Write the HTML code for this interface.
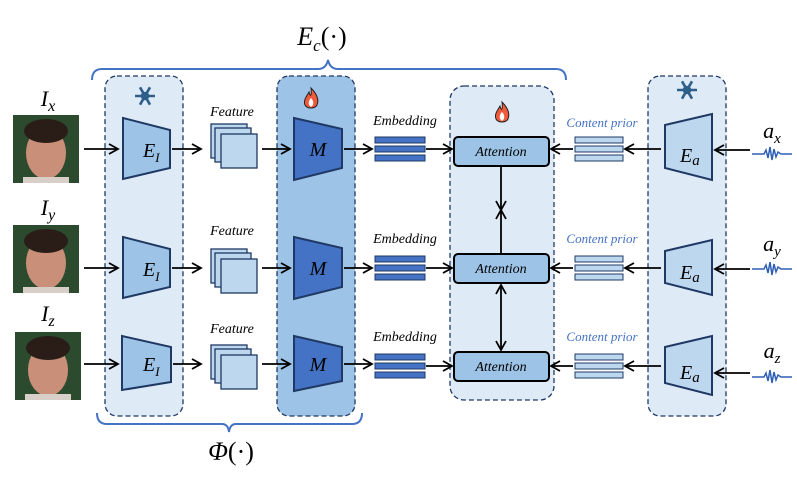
<!DOCTYPE html>
<html><head><meta charset="utf-8"><style>
body{margin:0;background:#fff}
svg{display:block}
text{font-family:"Liberation Serif",serif;font-style:italic}
</style></head><body>
<svg width="797" height="480" viewBox="0 0 797 480" xmlns="http://www.w3.org/2000/svg">
<defs>
<marker id="ah" markerWidth="12" markerHeight="12" refX="10" refY="6" orient="auto" markerUnits="userSpaceOnUse">
<path d="M1,1 L10,6 L1,11" fill="none" stroke="#000" stroke-width="1.8"/>
</marker>
<g id="emb">
<rect x="0" y="0" width="50" height="6" fill="#4472c4" stroke="#1f3864" stroke-width="1"/>
<rect x="0" y="9" width="50" height="6" fill="#4472c4" stroke="#1f3864" stroke-width="1"/>
<rect x="0" y="18" width="50" height="6" fill="#4472c4" stroke="#1f3864" stroke-width="1"/>
</g>
<g id="cp">
<rect x="0" y="0" width="48" height="6" fill="#bdd7ee" stroke="#1f3864" stroke-width="1"/>
<rect x="0" y="9" width="48" height="6" fill="#bdd7ee" stroke="#1f3864" stroke-width="1"/>
<rect x="0" y="18" width="48" height="6" fill="#bdd7ee" stroke="#1f3864" stroke-width="1"/>
</g>
<g id="feat">
<rect x="0" y="0" width="36" height="34" fill="#bdd7ee" stroke="#1f3864" stroke-width="1.3"/>
<rect x="4" y="4" width="36" height="34" fill="#bdd7ee" stroke="#1f3864" stroke-width="1.3"/>
<rect x="10" y="10" width="36" height="34" fill="#bdd7ee" stroke="#1f3864" stroke-width="1.3"/>
</g>
<g id="faceimg">
<rect x="0" y="0" width="66" height="68" fill="#2c4a2e"/>
<ellipse cx="33" cy="38" rx="20" ry="26" fill="#c98f78"/>
<ellipse cx="33" cy="16" rx="22" ry="12" fill="#2a1d18"/>
<rect x="10" y="62" width="46" height="6" fill="#d8d0c8"/>
</g>
<g id="snow" stroke="#2e5f8a" stroke-width="2.6" fill="none">
<line x1="-10" y1="0" x2="10" y2="0"/><line x1="-5" y1="-8.7" x2="5" y2="8.7"/><line x1="-5" y1="8.7" x2="5" y2="-8.7"/>
<circle r="3" fill="#2e5f8a"/>
</g>
<g id="fire">
<path d="M0,-10 C6,-4 8,2 6,7 C4,11 -4,11 -6,7 C-8,2 -4,-2 -2,-6 C-1,-2 1,0 0,-10Z" fill="#f05a3c" stroke="#222" stroke-width="1"/>
<path d="M0,0 C3,3 3,7 0,9 C-3,7 -3,3 0,0Z" fill="#fff"/>
</g>
</defs>

<rect x="105" y="76" width="78" height="340" rx="12" fill="#deebf7" stroke="#1f3864" stroke-width="1.3" stroke-dasharray="5,3"/>
<rect x="277" y="76" width="78" height="340" rx="12" fill="#9dc3e6" stroke="#1f3864" stroke-width="1.3" stroke-dasharray="5,3"/>
<rect x="450" y="86" width="104" height="314" rx="14" fill="#deebf7" stroke="#1f3864" stroke-width="1.3" stroke-dasharray="5,3"/>
<rect x="648" y="76" width="78" height="340" rx="12" fill="#deebf7" stroke="#1f3864" stroke-width="1.3" stroke-dasharray="5,3"/>

<use href="#snow" x="145" y="96"/>
<use href="#snow" x="687" y="90"/>
<use href="#fire" x="311" y="98"/>
<use href="#fire" x="502" y="112"/>

<path d="M92,80 Q92,69 102,69 L318,69 Q326,69 328,60 Q330,69 338,69 L556,69 Q566,69 566,80" fill="none" stroke="#4472c4" stroke-width="2"/>
<text x="322" y="45" font-size="26" text-anchor="middle">E<tspan font-size="17" dy="6">c</tspan><tspan dy="-6" font-style="normal">(·)</tspan></text>
<path d="M97,413 Q97,424 107,424 L222,424 Q228,424 229,432 Q230,424 236,424 L352,424 Q362,424 362,413" fill="none" stroke="#4472c4" stroke-width="2"/>
<text x="231" y="460" font-size="26" text-anchor="middle">Φ<tspan font-style="normal">(·)</tspan></text>

<g>
<text x="48" y="106" font-size="22" text-anchor="middle">I<tspan font-size="16" dy="5">x</tspan></text>
<use href="#faceimg" x="13" y="115"/>
<line x1="84" y1="149" x2="118" y2="149" stroke="#000" stroke-width="1.8" marker-end="url(#ah)"/>
<polygon points="123,118 170,130 170,168 123,179" fill="#9dc3e6" stroke="#1f3864" stroke-width="2"/>
<text x="143" y="157" font-size="20">E<tspan font-size="13" dy="5">I</tspan></text>
<line x1="172" y1="149" x2="201" y2="149" stroke="#000" stroke-width="1.8" marker-end="url(#ah)"/>
<text x="232" y="116" font-size="14" text-anchor="middle">Feature</text>
<use href="#feat" x="211" y="124"/>
<line x1="262" y1="149" x2="290" y2="149" stroke="#000" stroke-width="1.8" marker-end="url(#ah)"/>
<polygon points="294,118 342,129 342,168 294,180" fill="#4472c4" stroke="#1f3864" stroke-width="2"/>
<text x="318" y="156" font-size="20" text-anchor="middle">M</text>
<line x1="344" y1="149" x2="372" y2="149" stroke="#000" stroke-width="1.8" marker-end="url(#ah)"/>
<text x="405" y="125" font-size="14" text-anchor="middle">Embedding</text>
<use href="#emb" x="375" y="137"/>
<line x1="426" y1="149" x2="452" y2="149" stroke="#000" stroke-width="1.8" marker-end="url(#ah)"/>
<rect x="454" y="137" width="95" height="29" rx="4" fill="#9dc3e6" stroke="#000" stroke-width="2"/>
<text x="501" y="156" font-size="14" text-anchor="middle">Attention</text>
<text x="602" y="127" font-size="13" fill="#4472c4" text-anchor="middle">Content prior</text>
<use href="#cp" x="575" y="137"/>
<line x1="573" y1="149" x2="551" y2="149" stroke="#000" stroke-width="1.8" marker-end="url(#ah)"/>
<line x1="661" y1="149" x2="625" y2="149" stroke="#000" stroke-width="1.8" marker-end="url(#ah)"/>
<polygon points="665,125 712,114 712,180 665,168" fill="#bdd7ee" stroke="#1f3864" stroke-width="2"/>
<text x="680" y="162" font-size="20">E<tspan font-size="15" dy="3">a</tspan></text>
<line x1="750" y1="150" x2="715" y2="150" stroke="#000" stroke-width="1.8" marker-end="url(#ah)"/>
<text x="772" y="138" font-size="22" text-anchor="middle">a<tspan font-size="15" dy="5">x</tspan></text>
<path d="M752,154 L764,154 L766,150 L768,158 L770,147 L772,160 L774,149 L776,157 L778,152 L781,154 L792,154" fill="none" stroke="#2e5fb5" stroke-width="1.5"/>
</g>
<g transform="translate(0,119)">
<text x="48" y="96" font-size="22" text-anchor="middle">I<tspan font-size="16" dy="5">y</tspan></text>
<use href="#faceimg" x="13" y="106"/>
<line x1="84" y1="149" x2="118" y2="149" stroke="#000" stroke-width="1.8" marker-end="url(#ah)"/>
<polygon points="123,118 170,130 170,168 123,179" fill="#9dc3e6" stroke="#1f3864" stroke-width="2"/>
<text x="143" y="157" font-size="20">E<tspan font-size="13" dy="5">I</tspan></text>
<line x1="172" y1="149" x2="201" y2="149" stroke="#000" stroke-width="1.8" marker-end="url(#ah)"/>
<text x="232" y="116" font-size="14" text-anchor="middle">Feature</text>
<use href="#feat" x="211" y="130"/>
<line x1="262" y1="149" x2="290" y2="149" stroke="#000" stroke-width="1.8" marker-end="url(#ah)"/>
<polygon points="294,118 342,129 342,168 294,180" fill="#4472c4" stroke="#1f3864" stroke-width="2"/>
<text x="318" y="156" font-size="20" text-anchor="middle">M</text>
<line x1="344" y1="149" x2="372" y2="149" stroke="#000" stroke-width="1.8" marker-end="url(#ah)"/>
<text x="405" y="124" font-size="14" text-anchor="middle">Embedding</text>
<use href="#emb" x="375" y="137"/>
<line x1="426" y1="149" x2="452" y2="149" stroke="#000" stroke-width="1.8" marker-end="url(#ah)"/>
<rect x="454" y="135" width="95" height="29" rx="4" fill="#9dc3e6" stroke="#000" stroke-width="2"/>
<text x="501" y="154" font-size="14" text-anchor="middle">Attention</text>
<text x="602" y="124" font-size="13" fill="#4472c4" text-anchor="middle">Content prior</text>
<use href="#cp" x="575" y="137"/>
<line x1="573" y1="149" x2="551" y2="149" stroke="#000" stroke-width="1.8" marker-end="url(#ah)"/>
<line x1="661" y1="149" x2="625" y2="149" stroke="#000" stroke-width="1.8" marker-end="url(#ah)"/>
<polygon points="665,132 712,121 712,176 665,164" fill="#bdd7ee" stroke="#1f3864" stroke-width="2"/>
<text x="680" y="160" font-size="20">E<tspan font-size="15" dy="3">a</tspan></text>
<line x1="750" y1="150" x2="715" y2="150" stroke="#000" stroke-width="1.8" marker-end="url(#ah)"/>
<text x="772" y="132" font-size="22" text-anchor="middle">a<tspan font-size="15" dy="5">y</tspan></text>
<path d="M752,150 L764,150 L766,146 L768,154 L770,143 L772,156 L774,145 L776,153 L778,148 L781,150 L792,150" fill="none" stroke="#2e5fb5" stroke-width="1.5"/>
</g>
<g transform="translate(0,217)">
<text x="48" y="104" font-size="22" text-anchor="middle">I<tspan font-size="16" dy="5">z</tspan></text>
<use href="#faceimg" x="15" y="115"/>
<line x1="84" y1="147" x2="118" y2="147" stroke="#000" stroke-width="1.8" marker-end="url(#ah)"/>
<polygon points="122,119 171,130 171,165 122,173" fill="#9dc3e6" stroke="#1f3864" stroke-width="2"/>
<text x="143" y="154" font-size="20">E<tspan font-size="13" dy="5">I</tspan></text>
<line x1="173" y1="147" x2="201" y2="147" stroke="#000" stroke-width="1.8" marker-end="url(#ah)"/>
<text x="232" y="116" font-size="14" text-anchor="middle">Feature</text>
<use href="#feat" x="211" y="128"/>
<line x1="262" y1="147" x2="290" y2="147" stroke="#000" stroke-width="1.8" marker-end="url(#ah)"/>
<polygon points="294,119 342,130 342,164 294,174" fill="#4472c4" stroke="#1f3864" stroke-width="2"/>
<text x="318" y="154" font-size="20" text-anchor="middle">M</text>
<line x1="344" y1="147" x2="372" y2="147" stroke="#000" stroke-width="1.8" marker-end="url(#ah)"/>
<text x="405" y="124" font-size="14" text-anchor="middle">Embedding</text>
<use href="#emb" x="375" y="137"/>
<line x1="426" y1="149" x2="452" y2="149" stroke="#000" stroke-width="1.8" marker-end="url(#ah)"/>
<rect x="454" y="135" width="95" height="29" rx="4" fill="#9dc3e6" stroke="#000" stroke-width="2"/>
<text x="501" y="154" font-size="14" text-anchor="middle">Attention</text>
<text x="602" y="124" font-size="13" fill="#4472c4" text-anchor="middle">Content prior</text>
<use href="#cp" x="575" y="137"/>
<line x1="573" y1="149" x2="551" y2="149" stroke="#000" stroke-width="1.8" marker-end="url(#ah)"/>
<line x1="661" y1="149" x2="625" y2="149" stroke="#000" stroke-width="1.8" marker-end="url(#ah)"/>
<polygon points="665,130 712,119 712,178 665,166" fill="#bdd7ee" stroke="#1f3864" stroke-width="2"/>
<text x="680" y="162" font-size="20">E<tspan font-size="15" dy="3">a</tspan></text>
<line x1="750" y1="156" x2="715" y2="156" stroke="#000" stroke-width="1.8" marker-end="url(#ah)"/>
<text x="772" y="141" font-size="22" text-anchor="middle">a<tspan font-size="15" dy="5">z</tspan></text>
<path d="M752,160 L764,160 L766,156 L768,164 L770,153 L772,166 L774,155 L776,163 L778,158 L781,160 L792,160" fill="none" stroke="#2e5fb5" stroke-width="1.5"/>
</g>

<line x1="501" y1="166" x2="501" y2="210" stroke="#000" stroke-width="1.8" marker-end="url(#ah)"/>
<line x1="501" y1="254" x2="501" y2="210" stroke="#000" stroke-width="1.8" marker-end="url(#ah)"/>
<line x1="501" y1="303" x2="501" y2="285" stroke="#000" stroke-width="1.8" marker-end="url(#ah)"/>
<line x1="501" y1="303" x2="501" y2="350" stroke="#000" stroke-width="1.8" marker-end="url(#ah)"/>
</svg>
</body></html>
